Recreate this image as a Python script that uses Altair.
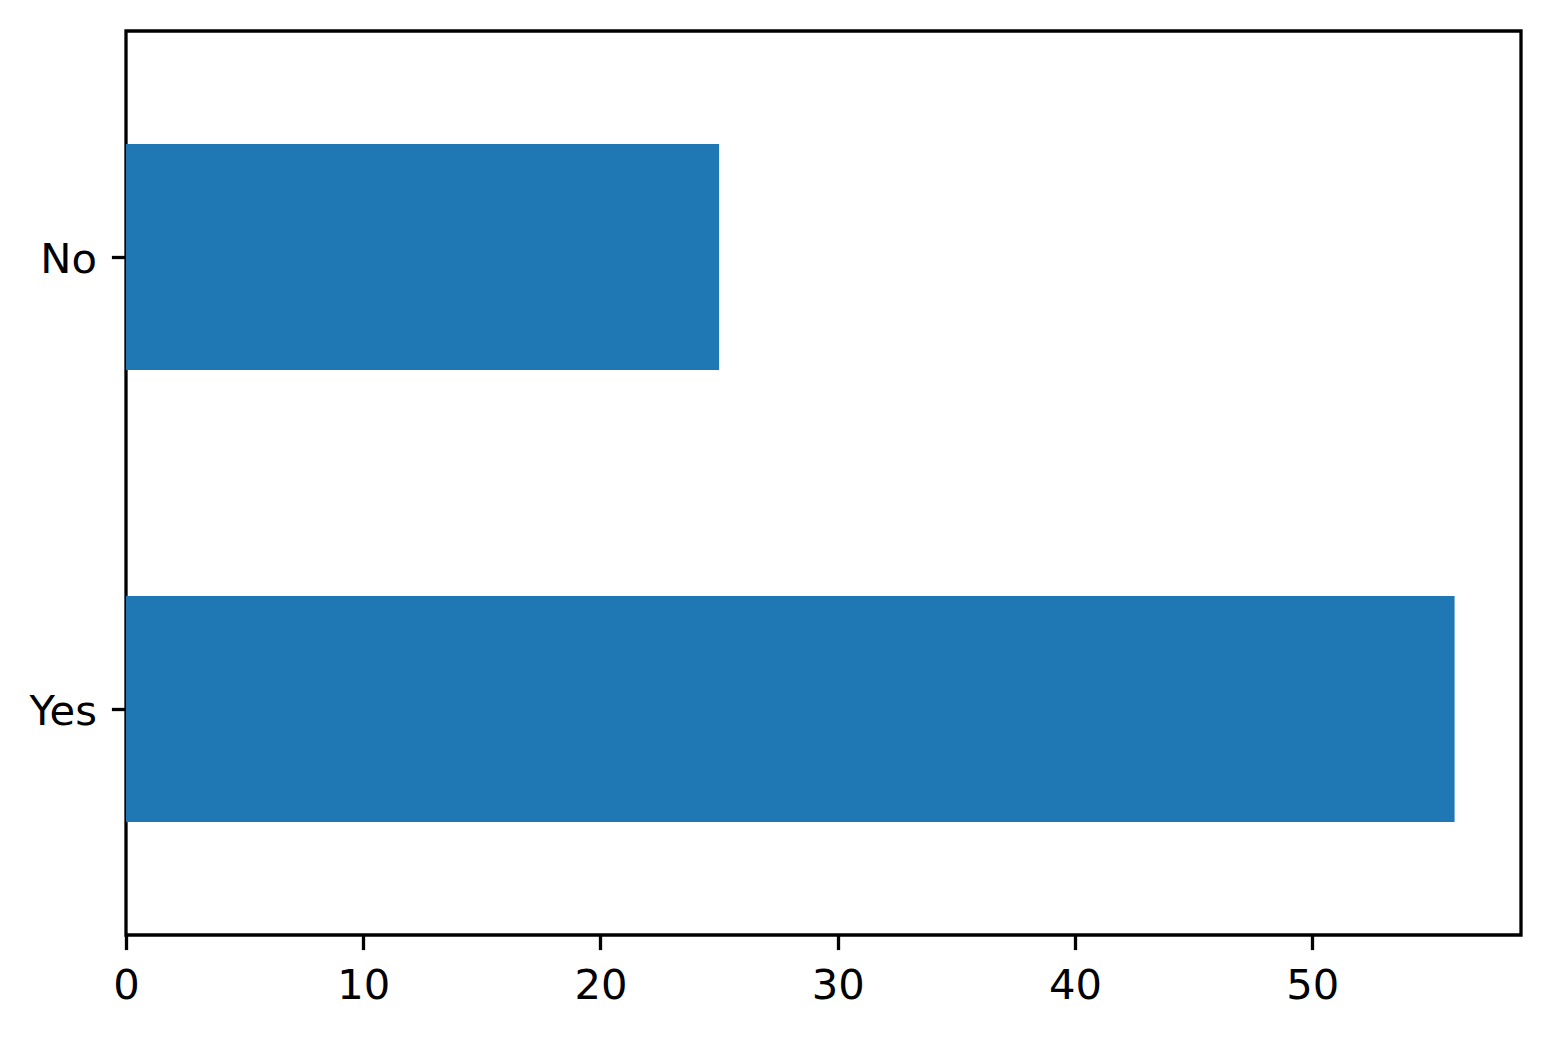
import altair as alt
import pandas as pd

categories = ["Yes", "No"]
counts = [56, 25]

df = pd.DataFrame({"answer": categories, "count": counts})

FONT = "DejaVu Sans"
FS = 41.7

chart = alt.Chart(df).mark_bar(color="#1f77b4").encode(
    x=alt.X("count:Q",
            scale=alt.Scale(domain=[0, 58.8], nice=False, zero=True),
            axis=alt.Axis(values=[0, 10, 20, 30, 40, 50], title=None, grid=False,
                          domain=False, tickColor="black", tickWidth=3.3, tickSize=14.6,
                          labelFont=FONT, labelFontSize=FS, labelColor="black",
                          labelPadding=16, labelFlush=False)),
    y=alt.Y("answer:N", sort=["No", "Yes"],
            scale=alt.Scale(paddingInner=0.5, paddingOuter=0.25),
            axis=alt.Axis(title=None, grid=False, domain=False, tickColor="black",
                          tickWidth=3.3, tickSize=14.6, labelFont=FONT, labelFontSize=FS,
                          labelColor="black", labelPadding=15, labelOffset=3)),
).properties(
    width=1395, height=904,
    autosize=alt.AutoSizeParams(type="none"),
    padding={"left": 118, "top": 23, "right": 18, "bottom": 80},
).configure(background="white").configure_view(stroke="black", strokeWidth=3.3)

chart.save("out.html", embed_options={"renderer": "svg", "actions": False})
